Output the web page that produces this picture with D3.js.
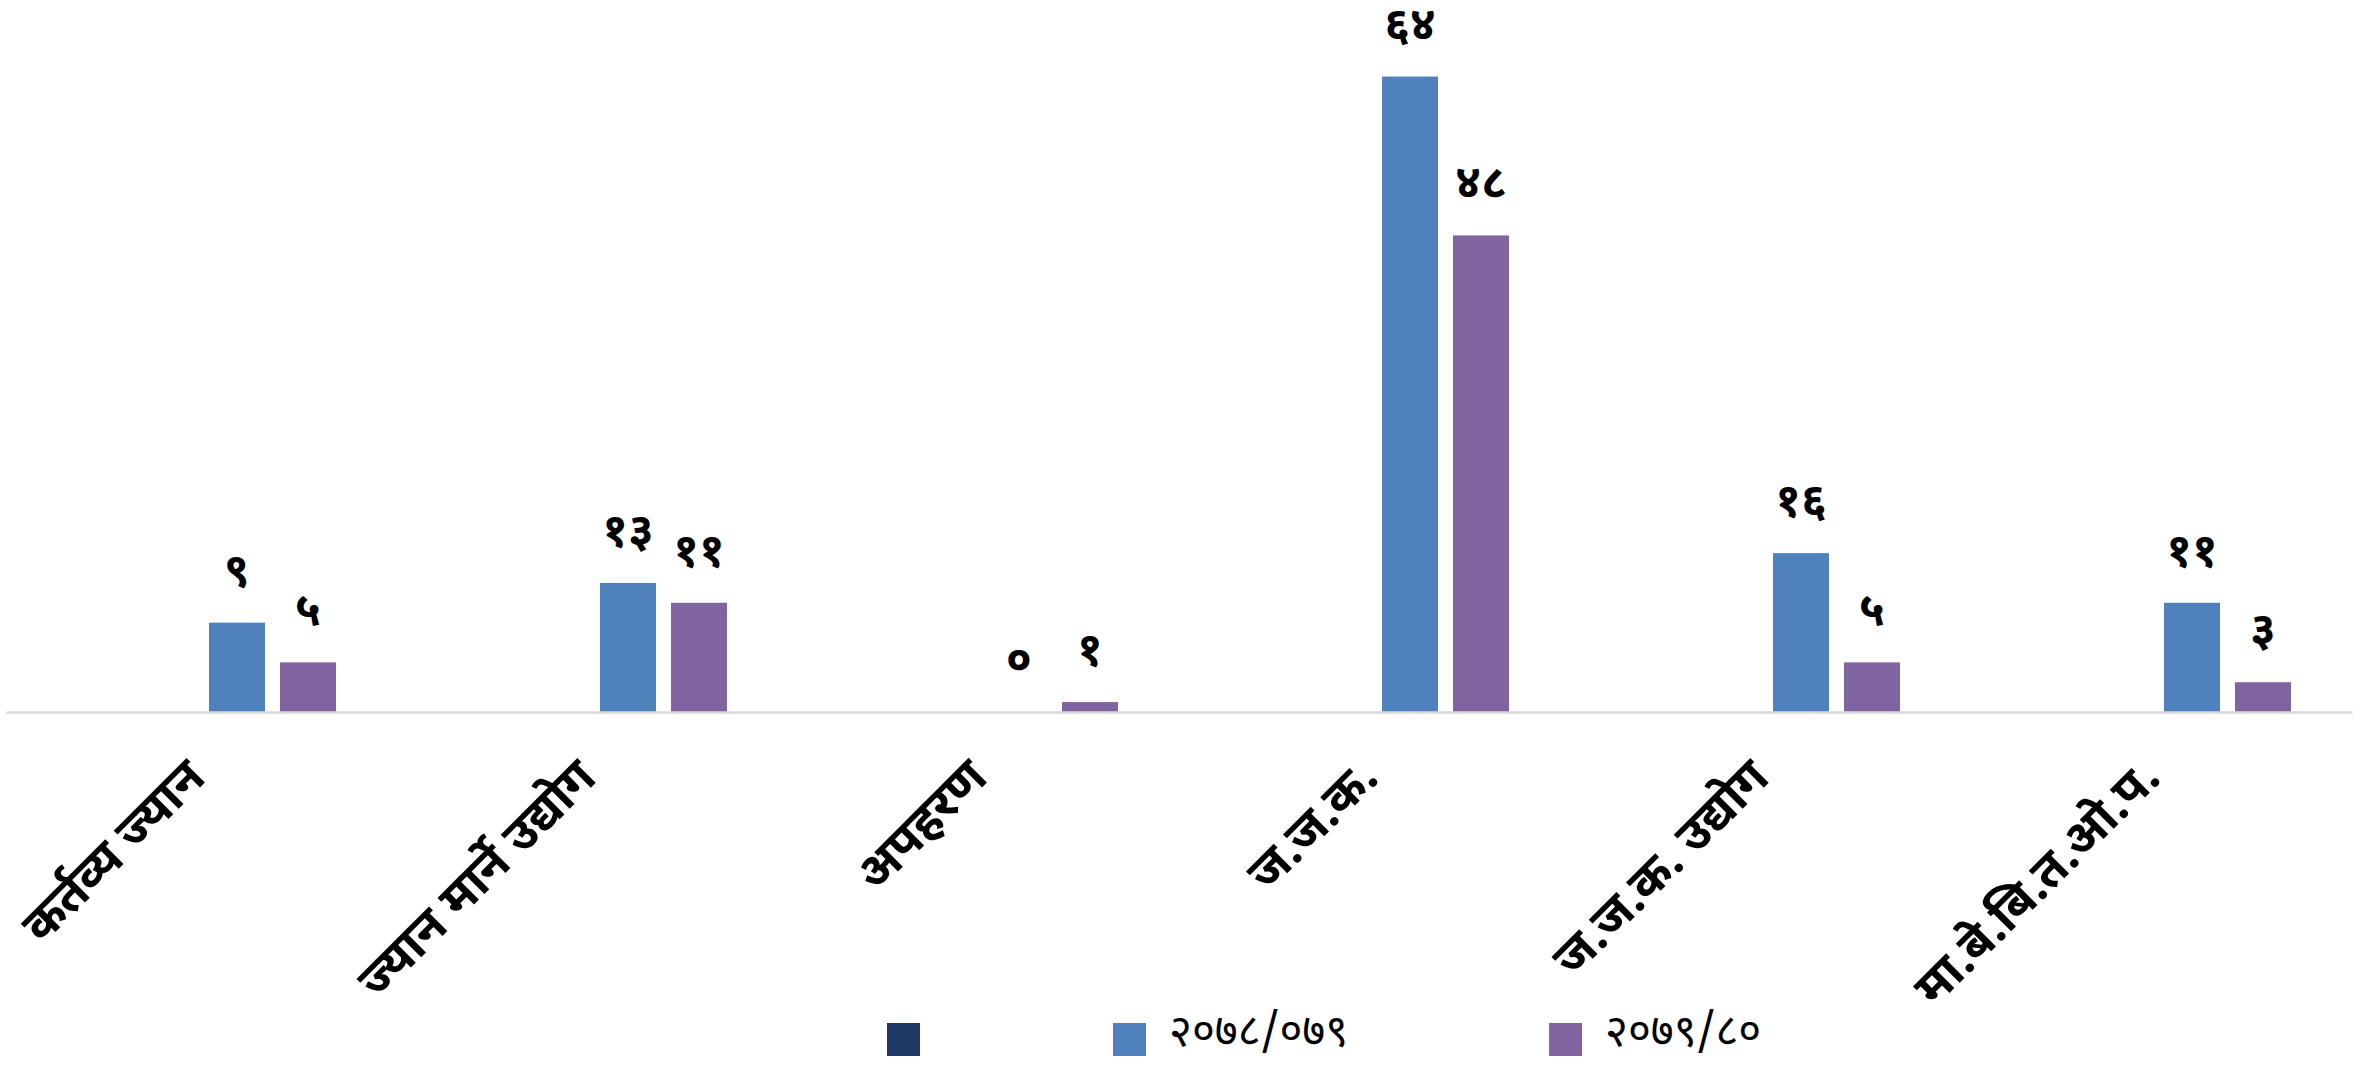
<!DOCTYPE html>
<html><head><meta charset="utf-8">
<script src="https://cdn.jsdelivr.net/npm/d3@7"></script>
<style>
html,body{margin:0;padding:0;background:#fff;}
svg{display:block;}
text{font-family:"Noto Sans Devanagari","Lohit Devanagari","Mangal","Nirmala UI","Noto Sans",sans-serif;fill:#000;}
</style></head>
<body>
<svg id="chart" width="2356" height="1067"></svg>
<script>
const categories = ["कर्तव्य ज्यान","ज्यान मार्ने उद्योग","अपहरण","ज.ज.क.","ज.ज.क. उद्योग","मा.बे.बि.त.ओ.प."];
const seriesNames = ["", "२०७८/०७९", "२०७९/८०"];
const seriesColors = ["#1F3864", "#4F81BD", "#8064A2"];
const seriesBlank = [null, null, null, null, null, null];
const series2078 = [9, 13, 0, 64, 16, 11];
const series2079 = [5, 11, 1, 48, 5, 3];
const seriesValues = [seriesBlank, series2078, series2079];
const devDigits = ["०","१","२","३","४","५","६","७","८","९"];
const toDev = v => String(v).replace(/[0-9]/g, d => devDigits[+d]);

const W = 2356, H = 1067;
const baseY = 712, topY = 17;
const svg = d3.select("#chart");

const x0 = d3.scaleBand().domain(categories).range([6, 2352]).paddingInner(0.312).paddingOuter(0.156);
// four slots per group; the first slot is an unnamed, empty series
const slotKeys = ["_", "s0", "s1", "s2"];
const x1 = d3.scaleBand().domain(slotKeys).range([0, x0.bandwidth()]).paddingInner(0.211);
const y = d3.scaleLinear().domain([0, 70]).range([baseY, topY]);

const g = svg.append("g");
categories.forEach((cat, ci) => {
  seriesValues.forEach((vals, si) => {
    const v = vals[ci];
    if (v === null || v === undefined) return;
    const bx = x0(cat) + x1(slotKeys[si + 1]);
    g.append("rect")
      .attr("x", bx).attr("width", x1.bandwidth())
      .attr("y", y(v)).attr("height", y(0) - y(v))
      .attr("fill", seriesColors[si]);
    g.append("text")
      .attr("x", bx + x1.bandwidth() / 2)
      .attr("y", y(v) - 37)
      .attr("text-anchor", "middle")
      .style("font-size", "46px").style("font-weight", "bold")
      .text(toDev(v));
  });
});

// axis line
const xAxis = d3.axisBottom(x0).tickSize(0).tickFormat("");
const ax = svg.append("g").attr("transform", `translate(0,${baseY})`).call(xAxis);
ax.select(".domain").attr("stroke", "#d9d9d9").attr("stroke-width", 2.5);

// category labels
categories.forEach(cat => {
  const cx = x0(cat) + x0.bandwidth() / 2;
  svg.append("text")
    .attr("transform", `translate(${cx + 6},${baseY + 68}) rotate(-45)`)
    .attr("text-anchor", "end")
    .style("font-size", "49px").style("font-weight", "bold")
    .text(cat);
});

// legend
const lg = svg.append("g");
let lx = 887;
seriesNames.forEach((name, i) => {
  lg.append("rect").attr("x", lx).attr("y", 1023).attr("width", 33).attr("height", 33).attr("fill", seriesColors[i]);
  const t = lg.append("text").attr("x", lx + 56).attr("y", 1046)
    .style("font-size", "44px").text(name);
  const tw = name ? t.node().getComputedTextLength() : 0;
  lx += name ? (33 + 23 + tw + 201) : 226;
});
</script>
</body></html>
